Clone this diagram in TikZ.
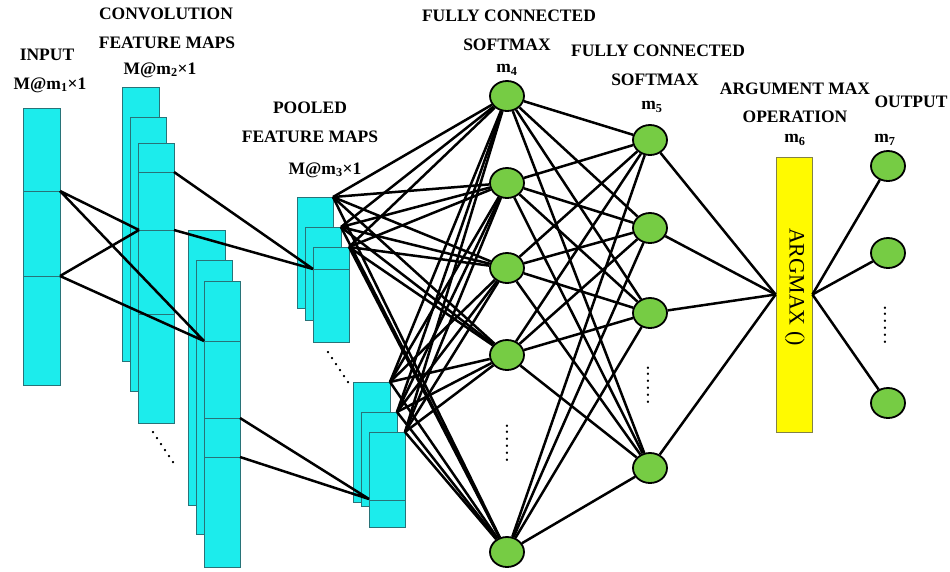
\documentclass[tikz,border=0pt]{standalone}
\usepackage{fontspec}
\setmainfont{Liberation Serif}
\newfontfamily\dotfont[LetterSpace=24]{Liberation Serif}
\usetikzlibrary{shapes.geometric}
\definecolor{fcyan}{RGB}{28,236,236}
\definecolor{fedge}{RGB}{40,115,120}
\definecolor{fgreen}{RGB}{118,204,68}
\definecolor{fyellow}{RGB}{255,250,0}
\definecolor{yedge}{RGB}{130,130,70}
\begin{document}
\begin{tikzpicture}[x=1pt,y=-1pt,
  fmap/.style={draw=fedge, fill=fcyan, line width=0.7pt, anchor=north west, inner sep=0pt, outer sep=0pt, minimum width=36pt},
  divider/.style={draw=fedge, line width=0.7pt},
  neuron/.style={ellipse, draw=black, fill=fgreen, line width=1.8pt, minimum width=34pt, minimum height=30pt, inner sep=0pt},
  conn/.style={line width=2.5pt, black},
  lbl/.style={font=\bfseries\fontsize{17.5}{19}\selectfont, inner sep=0pt},
  dotsl/.style={font=\dotfont\bfseries\fontsize{14}{14}\selectfont, inner sep=0pt},
  dotc/.style={font=\bfseries\fontsize{14}{14}\selectfont, inner sep=0pt}]
\useasboundingbox (0,0) rectangle (950,571);

% ---------- input ----------
\node[fmap, minimum width=37pt, minimum height=277pt] (in) at (23,108) {};
\draw[divider] (23,191) -- (60,191) (23,276) -- (60,276);

% ---------- convolution feature maps, group A ----------
\node[fmap, minimum width=37pt, minimum height=274pt] (caB) at (122,87) {};
\node[fmap, minimum height=274pt] (caM) at (130,117) {};
\node[fmap, minimum height=280pt] (caF) at (138,143) {};
\draw[divider] (138,172) -- (174,172) (138,230) -- (174,230) (138,314) -- (174,314);

% ---------- convolution feature maps, group B ----------
\node[fmap, minimum width=37pt, minimum height=275pt] (cbB) at (188,230) {};
\node[fmap, minimum height=274pt] (cbM) at (196,260) {};
\node[fmap, minimum height=286pt] (cbF) at (204,281) {};
\draw[divider] (204,341) -- (240,341) (204,418) -- (240,418) (204,457) -- (240,457);

% ---------- pooled feature maps, group A ----------
\node[fmap, minimum height=111pt] (paB) at (297,197) {};
\node[fmap, minimum height=93pt] (paM) at (305,227) {};
\node[fmap, minimum height=95pt] (paF) at (313,247) {};
\draw[divider] (313,269) -- (349,269);

% ---------- pooled feature maps, group B ----------
\node[fmap, minimum width=37pt, minimum height=120pt] (pbB) at (353,382) {};
\node[fmap, minimum height=94pt] (pbM) at (361,412) {};
\node[fmap, minimum height=95pt] (pbF) at (369,432) {};
\draw[divider] (369,500) -- (405,500);

% ---------- connection points ----------
\coordinate (i1) at (60,191);
\coordinate (i2) at (60,276);
\coordinate (ca) at (139,230);
\coordinate (cb) at (204,341);
\coordinate (ca1) at (174,172);
\coordinate (ca2) at (174,230);
\coordinate (pa) at (313,269);
\coordinate (cb1) at (240,418);
\coordinate (cb2) at (240,457);
\coordinate (pb) at (369,499);

\draw[conn] (i1) -- (ca) (i1) -- (cb) (i2) -- (ca) (i2) -- (cb);
\draw[conn] (ca1) -- (pa) (ca2) -- (pa);
\draw[conn] (cb1) -- (pb) (cb2) -- (pb);

% ---------- fully connected layer 1 ----------
\node[neuron] (f1) at (507,96) {};
\node[neuron] (f2) at (507,183) {};
\node[neuron] (f3) at (507,268) {};
\node[neuron] (f4) at (507,355) {};
\node[neuron] (f5) at (507,552) {};

% ---------- fully connected layer 2 ----------
\node[neuron] (g1) at (650,140) {};
\node[neuron] (g2) at (650,228) {};
\node[neuron] (g3) at (650,313) {};
\node[neuron] (g4) at (650,468) {};

% ---------- argmax ----------
\node[draw=yedge, fill=fyellow, line width=0.8pt, minimum width=36pt, minimum height=275pt, inner sep=0pt] (am) at (794,294.5) {};
\node[font=\fontsize{22}{22}\selectfont, rotate=-90, inner sep=0pt] (amt) at (795,287) {ARGMAX ()};

% ---------- output ----------
\node[neuron] (o1) at (888,166) {};
\node[neuron] (o2) at (888,253) {};
\node[neuron] (o3) at (888,403) {};

% pooled -> FC1
\foreach \p in {paB,paM,paF,pbB,pbM,pbF}{
  \foreach \f in {f1,f2,f3,f4,f5}{
    \draw[conn] (\p.north east) -- (\f);
  }
}
% FC1 -> FC2
\foreach \f in {f1,f2,f3,f4,f5}{
  \foreach \g in {g1,g2,g3,g4}{
    \draw[conn] (\f) -- (\g);
  }
}
% FC2 -> argmax
\foreach \g in {g1,g2,g3,g4}{
  \draw[conn] (\g) -- (am.west);
}
% argmax -> output
\foreach \o in {o1,o2,o3}{
  \draw[conn] (am.east) -- (\o);
}

% ---------- dots ----------
\foreach \k in {0,...,5}{
  \node[dotc] (da\k) at ({153+4.0*\k},{433+6.0*\k}) {.};
  \node[dotc] (db\k) at ({328+4.0*\k},{353+6.0*\k}) {.};
}
\node[dotsl, rotate=-90] (d3) at (507,443) {......};
\node[dotsl, rotate=-90] (d4) at (648,385) {......};
\node[dotsl, rotate=-90] (d5) at (885,325) {......};

% ---------- labels ----------
\node[lbl] (t1) at (47,55) {INPUT};
\node[lbl] (t2) at (50,85) {M@m\textsubscript{1}×1};
\node[lbl] (t3) at (166,14) {CONVOLUTION};
\node[lbl] (t4) at (167,43) {FEATURE MAPS};
\node[lbl] (t5) at (160,70) {M@m\textsubscript{2}×1};
\node[lbl] (t6) at (310,108) {POOLED};
\node[lbl] (t7) at (310,137) {FEATURE MAPS};
\node[lbl] (t8) at (325,170) {M@m\textsubscript{3}×1};
\node[lbl] (t9) at (509,16) {FULLY CONNECTED};
\node[lbl] (t10) at (507,45) {SOFTMAX};
\node[lbl] (t11) at (507,70) {m\textsubscript{4}};
\node[lbl] (t12) at (658,51) {FULLY CONNECTED};
\node[lbl] (t13) at (655,80) {SOFTMAX};
\node[lbl] (t14) at (652,107) {m\textsubscript{5}};
\node[lbl] (t15) at (795,89) {ARGUMENT MAX};
\node[lbl] (t16) at (795,117) {OPERATION};
\node[lbl] (t17) at (795,140) {m\textsubscript{6}};
\node[lbl] (t18) at (911,102) {OUTPUT};
\node[lbl] (t19) at (885,140) {m\textsubscript{7}};
\end{tikzpicture}
\end{document}
